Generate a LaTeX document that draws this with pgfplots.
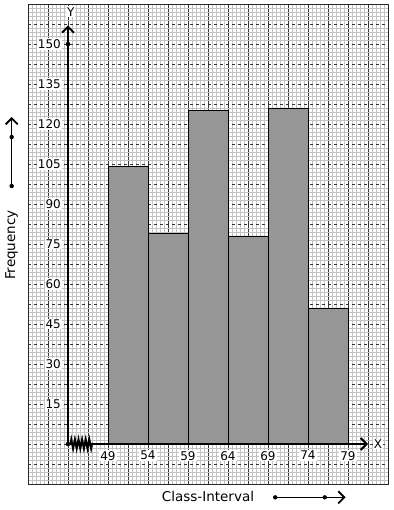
\documentclass[border=0pt]{standalone}
\usepackage{fontspec}
\setmainfont{DejaVu Sans}
\usepackage{pgfplots}
\pgfplotsset{compat=1.18}
\usetikzlibrary{arrows.meta,decorations.pathmorphing}
\definecolor{barg}{HTML}{969696}
\begin{document}
\begin{tikzpicture}
\begin{axis}[
 name=ax,
 scale only axis, width=360pt, height=480pt,
 xmin=39, xmax=84, ymin=-15, ymax=165,
 xtick={39,41.5,...,84}, ytick={-15,-7.5,...,165},
 minor x tick num=4, minor y tick num=4,
 xticklabels={}, yticklabels={},
 grid=both,
 minor grid style={black!24, line width=0.4pt},
 major x grid style={black!80, line width=0.6pt},
 major y grid style={black!80, line width=0.6pt, dashed},
 tick style={draw=none},
 axis line style={black!85, line width=0.8pt},
 clip=false,
 extra x ticks={49,54,59,64,69,74,79},
 extra x tick labels={49,54,59,64,69,74,79},
 extra x tick style={grid=none, tick label style={fill=white, inner sep=1pt, yshift=34pt, font=\fontsize{12}{14}\selectfont}},
 extra y ticks={15,30,45,60,75,90,105,120,135,150},
 extra y tick labels={15,30,45,60,75,90,105,120,135,150},
 extra y tick style={grid=none, tick label style={fill=white, inner sep=1pt, xshift=34pt, font=\fontsize{12}{14}\selectfont}},
]
\addplot[ybar interval, fill=barg, draw=black, line width=0.8pt] coordinates {(49,104) (54,79) (59,125) (64,78) (69,126) (74,51) (79,51)};
\draw[line width=2pt, decorate, decoration={zigzag, segment length=3.6pt, amplitude=4.5pt}] (axis cs:44.3,0) -- (axis cs:47.2,0);
\draw[line width=1.8pt, -{Straight Barb[length=6pt,width=12pt,line width=2pt]}] (axis cs:44,0) -- (axis cs:44,157);
\draw[line width=1.8pt, -{Straight Barb[length=6pt,width=12pt,line width=2pt]}] (axis cs:44,0) -- (axis cs:81.5,0);
\fill (axis cs:44,0) circle (2.3pt);
\fill (axis cs:44,150) circle (2.3pt);
\node[font=\fontsize{12}{14}\selectfont, fill=white, inner sep=1pt] at (axis cs:44.34,162.1) {Y};
\node[font=\fontsize{12}{14}\selectfont, fill=white, inner sep=1pt] at (axis cs:82.75,0) {X};
\node[rotate=90, font=\fontsize{13.5}{16}\selectfont] at (axis cs:36.96,74.6) {Frequency};
\draw[line width=1.6pt, -{Straight Barb[length=6pt,width=12pt,line width=1.8pt]}] (axis cs:36.96,96.75) -- (axis cs:36.96,122.6);
\fill (axis cs:36.96,96.75) circle (2.2pt);
\fill (axis cs:36.96,115.1) circle (2.2pt);
\node[font=\fontsize{13.5}{16}\selectfont] at (axis cs:61.5,-19.76) {Class-Interval};
\draw[line width=1.6pt, -{Straight Barb[length=6pt,width=12pt,line width=1.8pt]}] (axis cs:69.9,-20) -- (axis cs:78.7,-20);
\fill (axis cs:69.9,-20) circle (2.2pt);
\fill (axis cs:76.1,-20) circle (2.2pt);
\end{axis}
\pgfresetboundingbox
\path[use as bounding box] ([shift={(-28pt,-26pt)}]ax.south west) rectangle ([shift={(5pt,4pt)}]ax.north east);
\end{tikzpicture}
\end{document}
